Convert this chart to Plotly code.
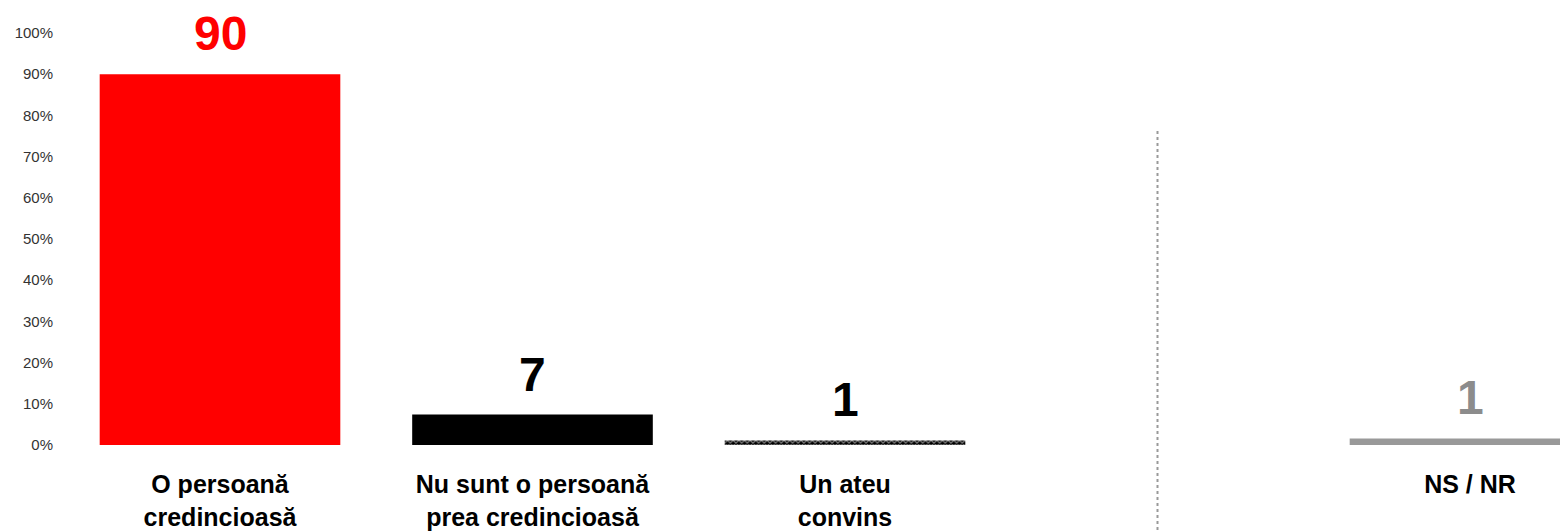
import plotly.graph_objects as go

# answer categories (slot 3 is the gap holding the dotted separator)
categories = ['O persoană<br>credincioasă', 'Nu sunt o persoană<br>prea credincioasă', 'Un ateu<br>convins', 'NS / NR']
positions = [0, 1, 2, 4]
values = [90, 7.4, 1.1, 1.6]
value_labels = ['90', '7', '1', '1']
separator_pos = 3
separator_top = 76.5

bar_colors = ['#ff0000', '#000000', '#000000', '#999999']
label_colors = ['#ff0000', '#000000', '#000000', '#8c8c8c']
patterns = ['', '', 'x', '']

fig = go.Figure()
fig.add_trace(go.Bar(
    x=positions,
    y=values,
    width=0.77,
    marker=dict(
        color=bar_colors,
        line=dict(width=0),
        pattern=dict(shape=patterns, fgcolor='#000000', bgcolor='#ffffff',
                     size=4, solidity=0.5)),
    hoverinfo='skip',
    showlegend=False))

for x, v, t, c in zip(positions, values, value_labels, label_colors):
    fig.add_annotation(x=x, y=v, text='<b>' + t + '</b>', showarrow=False,
                       yanchor='bottom', yshift=12,
                       font=dict(family='Arial, Liberation Sans', size=48, color=c))

# dotted separator before the "don't know" column
fig.add_shape(type='line', xref='x', yref='paper',
              x0=separator_pos, x1=separator_pos,
              y0=-0.25, y1=separator_top / 100,
              line=dict(color='#999999', width=2, dash='dot'))

# page body adds an 8px offset, so the figure is 8px smaller to avoid scrollbars
fig.update_layout(
    width=1560, height=523,
    margin=dict(l=52, r=0, t=25, b=86),
    plot_bgcolor='white', paper_bgcolor='white',
    font=dict(family='Arial, Liberation Sans', color='#000000'),
    xaxis=dict(
        range=[-0.512, 4.3136],
        tickvals=positions,
        ticktext=['<b>' + c + '</b>' for c in categories],
        tickfont=dict(size=25, color='#000000'),
        showgrid=False, zeroline=False, showline=False, ticks='',
        ticklabelstandoff=22),
    yaxis=dict(
        range=[0, 100],
        tickvals=list(range(0, 101, 10)),
        ticktext=[str(v) + '%' for v in range(0, 101, 10)],
        tickfont=dict(size=15, color='#333333'),
        showgrid=False, zeroline=False, showline=False, ticks='',
        ticklabelstandoff=6),
)

fig.write_html("out.html")
